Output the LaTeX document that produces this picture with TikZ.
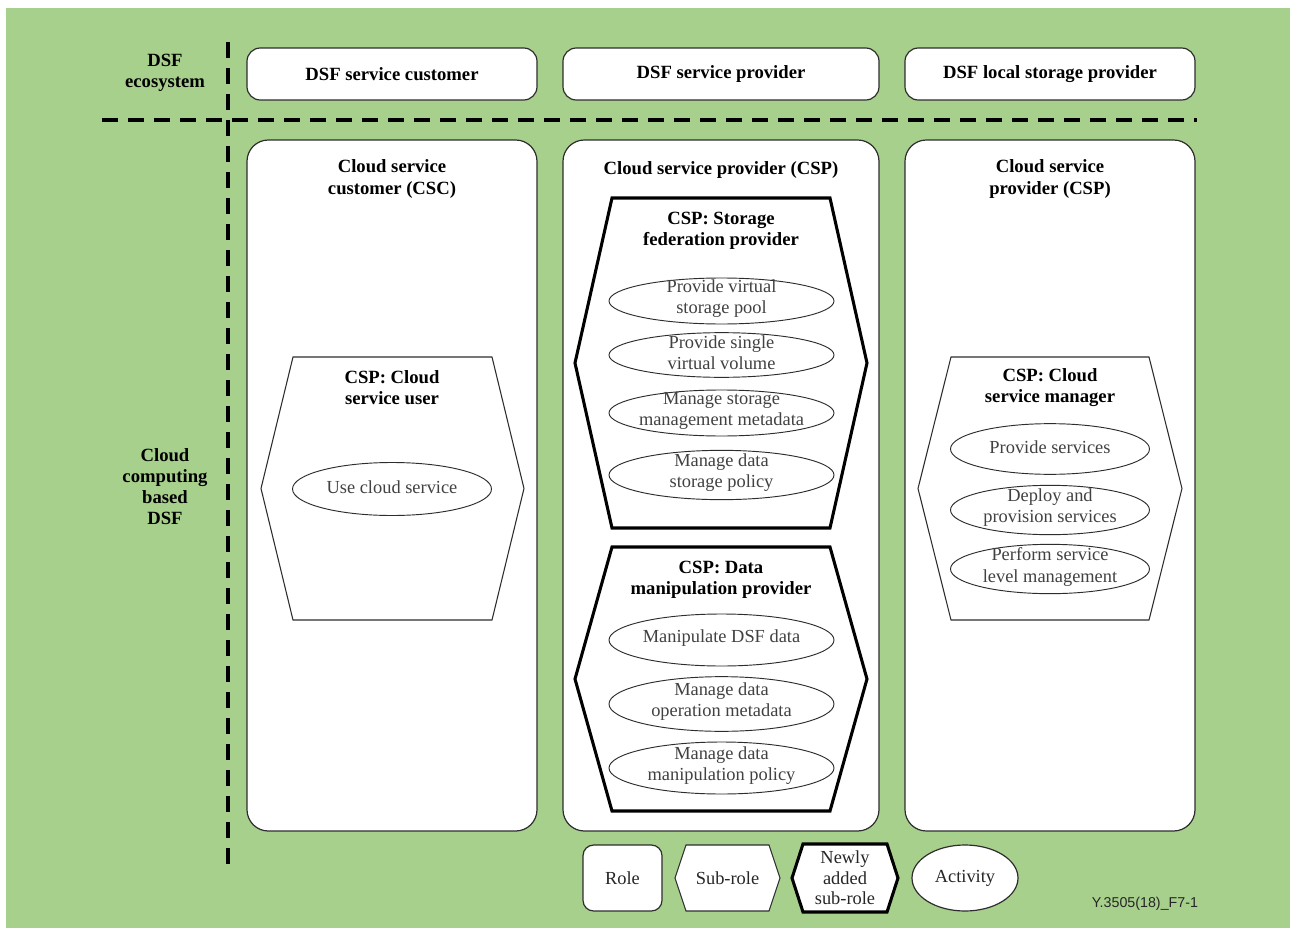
\documentclass[tikz,border=0pt]{standalone}
\usepackage{fontspec}
\setmainfont{Liberation Serif}
\newfontfamily\labelfont{Liberation Sans}
\usetikzlibrary{shapes.geometric}
\definecolor{bggreen}{RGB}{168,208,141}
\definecolor{edgegray}{RGB}{45,45,45}
\definecolor{acttext}{RGB}{65,65,65}
% style, cx, cy, halfwidth, inset, halfheight
\newcommand\hexa[6]{%
  \draw[#1] ({#2-#4},#3) -- ({#2-#4+#5},{#3-#6}) -- ({#2+#4-#5},{#3-#6}) -- ({#2+#4},#3)
    -- ({#2+#4-#5},{#3+#6}) -- ({#2-#4+#5},{#3+#6}) -- cycle;}
% name, x, y, width, height, text
\newcommand\activity[6]{%
  \node[actshape, minimum width=#4, minimum height=#5] (#1) at (#2,#3) {};
  \node[acttxt] (#1t) at ([yshift=1.5pt]#1.center) {#6};}
\begin{document}
\begin{tikzpicture}[x=0.75pt,y=-0.75pt,
  title/.style={font=\bfseries\fontsize{14}{15.8}\selectfont, align=center, inner sep=0pt},
  actshape/.style={ellipse, draw=edgegray, line width=0.7pt, fill=white, inner sep=0pt},
  acttxt/.style={font=\fontsize{13.8}{15.8}\selectfont, text=acttext, align=center, inner sep=0pt},
  legtxt/.style={font=\fontsize{13.8}{15.5}\selectfont, text=black!85, align=center, inner sep=0pt},
  rolebox/.style={draw=edgegray, line width=0.9pt, fill=white, rounded corners=10pt, inner sep=0pt},
  bigbox/.style={rolebox, rounded corners=16pt},
  subhex/.style={draw=edgegray, line width=0.8pt, fill=white, line join=miter},
  newhex/.style={draw=black, line width=2.3pt, fill=white, line join=miter},
  sepline/.style={line width=2.6pt, dash pattern=on 12pt off 7.5pt}
]
\useasboundingbox (0,0) rectangle (1290,928);
\fill[white] (0,0) rectangle (1290,928);
\fill[bggreen] (6,8) rectangle (1290,928);

% separators
\coordinate (vtop) at (228,42);
\coordinate (vbot) at (228,870);
\coordinate (hleft) at (102,120);
\coordinate (hright) at (1197,120);
\draw[sepline] (vtop) -- (vbot);
\draw[sepline] (hleft) -- (hright);

% row labels
\node[title] (eco) at (165,73) {DSF\\ecosystem};
\node[title] (ccb) at (165,487) {Cloud\\computing\\based\\DSF};

% top roles
\node[rolebox, minimum width=217.5pt, minimum height=39pt, font=\bfseries\fontsize{14}{15.8}\selectfont] (dsfc) at (392,74) {DSF service customer};
\node[rolebox, minimum width=237pt, minimum height=39pt, font=\bfseries\fontsize{14}{15.8}\selectfont] (dsfp) at (721,74) {DSF service provider};
\node[rolebox, minimum width=217.5pt, minimum height=39pt, font=\bfseries\fontsize{14}{15.8}\selectfont] (dsfl) at (1050,74) {DSF local storage provider};

% big roles
\node[bigbox, minimum width=217.5pt, minimum height=518.25pt] (csc) at (392,485.5) {};
\node[bigbox, minimum width=237pt, minimum height=518.25pt] (cspm) at (721,485.5) {};
\node[bigbox, minimum width=217.5pt, minimum height=518.25pt] (cspr) at (1050,485.5) {};
\node[title] (csct) at (392,179) {Cloud service\\customer (CSC)};
\node[title] (cspmt) at (721,170) {Cloud service provider (CSP)};
\node[title] (csprt) at (1050,179) {Cloud service\\provider (CSP)};

% sub-roles
\hexa{subhex}{392.5}{488.5}{131.5}{32}{131.5}
\node[title] (usert) at (392,388) {CSP: Cloud\\service user};
\activity{use}{392}{489}{149.25pt}{39.75pt}{Use cloud service}

\hexa{subhex}{1050}{488.5}{132}{33}{131.5}
\node[title] (mgrt) at (1050,388) {CSP: Cloud\\service manager};
\activity{m1}{1050}{449}{149.25pt}{38pt}{Provide services}
\activity{m2}{1050}{510}{149.25pt}{37pt}{Deploy and\\provision services}
\activity{m3}{1050}{569}{149.25pt}{37pt}{Perform service\\level management}

\hexa{newhex}{721}{363}{146}{37}{165}
\node[title] (sfpt) at (721,231) {CSP: Storage\\federation provider};
\activity{s1}{721.5}{301}{168.75pt}{34.5pt}{Provide virtual\\storage pool}
\activity{s2}{721.5}{355}{168.75pt}{33.5pt}{Provide single\\virtual volume}
\activity{s3}{721.5}{413}{168.75pt}{34.5pt}{Manage storage\\management metadata}
\activity{s4}{721.5}{475}{168.75pt}{37pt}{Manage data\\storage policy}

\hexa{newhex}{721}{679}{146}{37}{132}
\node[title] (dmpt) at (721,580) {CSP: Data\\manipulation provider};
\activity{d1}{721.5}{640}{168.75pt}{39pt}{Manipulate DSF data}
\activity{d2}{721.5}{704}{168.75pt}{41pt}{Manage data\\operation metadata}
\activity{d3}{721.5}{768}{168.75pt}{39pt}{Manage data\\manipulation policy}

% legend
\node[rolebox, rounded corners=8pt, minimum width=59.25pt, minimum height=49.5pt] (lrole) at (622.5,878) {};
\node[legtxt] (lrolet) at (lrole) {Role};
\hexa{subhex}{727.5}{878}{52.5}{11}{33}
\node[legtxt] (lsubt) at (727.5,878) {Sub-role};
\hexa{newhex}{845}{878}{53}{11}{34}
\node[legtxt] (lnewt) at (845,878) {Newly\\added\\sub-role};
\node[actshape, line width=0.9pt, minimum width=79.5pt, minimum height=49.5pt] (lact) at (965,878) {};
\node[legtxt] (lactt) at (lact) {Activity};

\node[font=\labelfont\fontsize{10.7}{12}\selectfont, text=black!85, inner sep=0pt] (fig) at (1145,904) {Y.3505(18)\_F7-1};
\end{tikzpicture}
\end{document}
